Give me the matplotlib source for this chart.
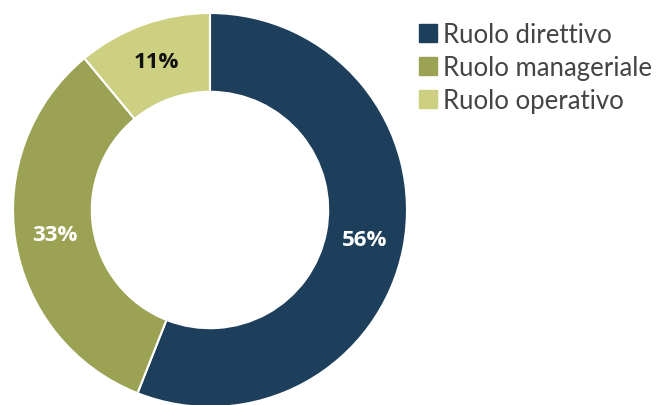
import matplotlib.pyplot as plt
from matplotlib.lines import Line2D
import numpy as np

# Quote per ruolo
categories = ['Ruolo direttivo', 'Ruolo manageriale', 'Ruolo operativo']
values = [56, 33, 11]
colors = ['#1d3f5b', '#9ca254', '#cdd081']
label_colors = ['white', 'white', '#111111']

plt.rcParams['font.family'] = ['Lato', 'DejaVu Sans']

fig = plt.figure(figsize=(6.58, 4.06), dpi=100)
# square axes so the ring stays round
ax = fig.add_axes([13 / 658, -2 / 406, 394 / 658, 394 / 406])

wedges, _ = ax.pie(values, colors=colors, startangle=90, counterclock=False,
                   radius=1.0,
                   wedgeprops=dict(width=0.40, edgecolor='white', linewidth=1.5))

# percentage labels in the middle of each ring segment
for w, v, c in zip(wedges, values, label_colors):
    ang = np.deg2rad((w.theta1 + w.theta2) / 2)
    r = 0.80
    ax.text(r * np.cos(ang), r * np.sin(ang), f'{v}%', ha='center', va='center',
            fontsize=16, fontweight='bold', color=c,
            family=['Open Sans', 'DejaVu Sans'])

ax.set_xlim(-1, 1)
ax.set_ylim(-1, 1)
ax.set_aspect('equal')
ax.axis('off')

handles = [Line2D([0], [0], marker='s', linestyle='none', markersize=13,
                  markerfacecolor=c, markeredgecolor=c) for c in colors]
leg = fig.legend(handles, categories, loc='upper left',
                 bbox_to_anchor=(410 / 658, 1 - 13 / 406), frameon=False,
                 fontsize=18.5, handlelength=0.6, handletextpad=0.3,
                 labelspacing=0.3, borderaxespad=0)
for t in leg.get_texts():
    t.set_color('#444444')

fig.savefig('out.png', dpi=100)
